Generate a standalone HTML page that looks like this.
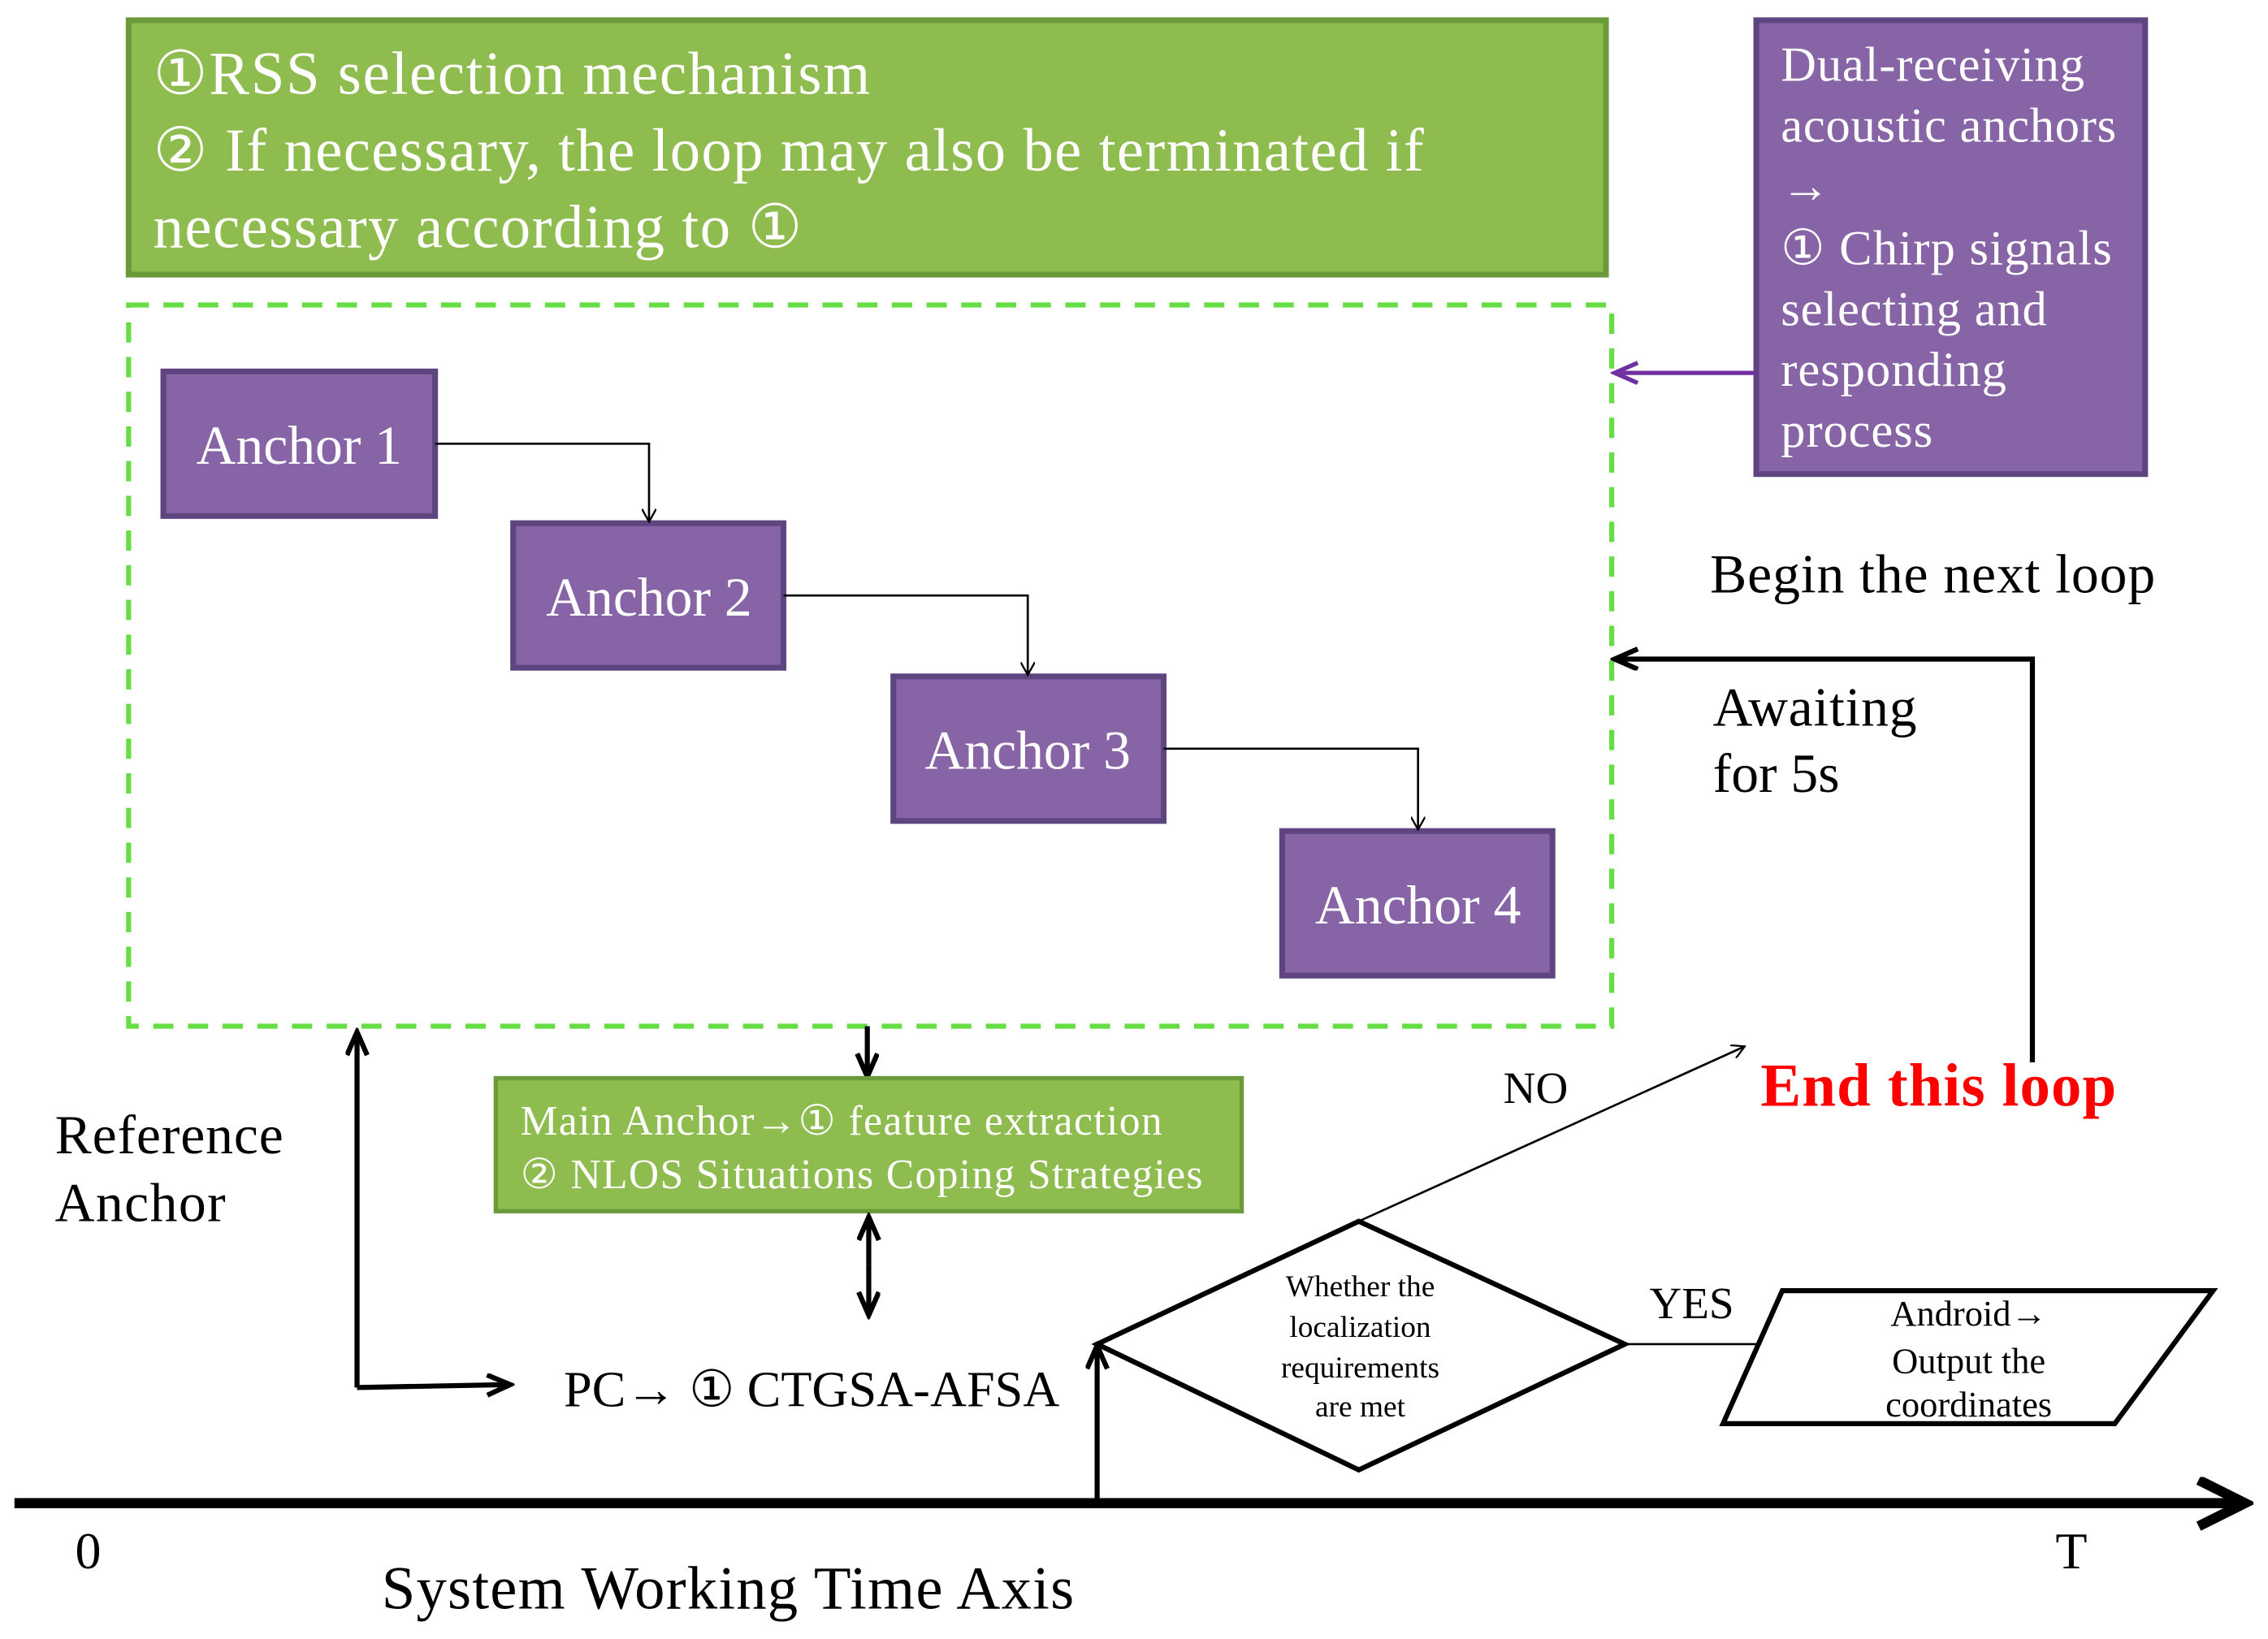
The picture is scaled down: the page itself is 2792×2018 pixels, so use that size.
<!DOCTYPE html>
<html><head><meta charset="utf-8"><style>html,body{margin:0;padding:0;background:#fff}svg{display:block}</style></head><body>
<svg width="2792" height="2018" viewBox="0 0 1569 1134" preserveAspectRatio="none" xmlns="http://www.w3.org/2000/svg" font-family="'Liberation Serif', serif">
<defs>
<marker id="a" markerWidth="10" markerHeight="10" refX="9" refY="5" orient="auto" markerUnits="userSpaceOnUse"><path d="M0,0 L9,5 L0,10" fill="none" stroke="#000" stroke-width="1.3"/></marker>
<marker id="ab" markerWidth="20" markerHeight="20" refX="17" refY="8" orient="auto" markerUnits="userSpaceOnUse"><path d="M1,1 L17,8 L1,15" fill="none" stroke="#000" stroke-width="3.5"/></marker>
<marker id="ap" markerWidth="20" markerHeight="20" refX="17" refY="8" orient="auto" markerUnits="userSpaceOnUse"><path d="M1,1 L17,8 L1,15" fill="none" stroke="#7030a0" stroke-width="3"/></marker>
<marker id="ax" markerWidth="40" markerHeight="40" refX="34" refY="18" orient="auto" markerUnits="userSpaceOnUse"><path d="M2,2 L34,18 L2,34" fill="none" stroke="#000" stroke-width="7"/></marker>
</defs>
<rect x="89" y="14" width="1022" height="176" fill="#8fbc4f" stroke="#6a9a3a" stroke-width="4"/>
<g fill="#fff" font-size="42" lengthAdjust="spacingAndGlyphs"><text x="106" y="65" textLength="496">①RSS selection mechanism</text><text x="106" y="118" textLength="879">② If necessary, the loop may also be terminated if</text><text x="106" y="171" textLength="449">necessary according to ①</text></g>
<rect x="89" y="211" width="1026" height="499" fill="none" stroke="#66dd44" stroke-width="3.5" stroke-dasharray="14,10"/>
<rect x="1215" y="14" width="269" height="314" fill="#8764a6" stroke="#5e4580" stroke-width="4"/>
<g fill="#fff" font-size="34"><text x="1232" y="56" textLength="210">Dual-receiving</text><text x="1232" y="98" textLength="232">acoustic anchors</text><text x="1232" y="140">→</text><text x="1232" y="183" textLength="229">① Chirp signals</text><text x="1232" y="225" textLength="184">selecting and</text><text x="1232" y="267" textLength="156">responding</text><text x="1232" y="309" textLength="105">process</text></g>
<g fill="#8764a6" stroke="#5e4580" stroke-width="4"><rect x="113" y="257" width="188" height="100"/><rect x="355" y="362" width="187" height="100"/><rect x="618" y="468" width="187" height="100"/><rect x="887" y="575" width="187" height="100"/></g>
<g fill="#fff" font-size="38" text-anchor="middle"><text x="207" y="321">Anchor 1</text><text x="449" y="426">Anchor 2</text><text x="711" y="532">Anchor 3</text><text x="981" y="639">Anchor 4</text></g>
<g fill="none" stroke="#000" stroke-width="1.5"><path d="M301,307 H449 V361" marker-end="url(#a)"/><path d="M542,412 H711 V467" marker-end="url(#a)"/><path d="M805,518 H981 V574" marker-end="url(#a)"/></g>
<path d="M1215,258 H1117" stroke="#7030a0" stroke-width="3" marker-end="url(#ap)"/>
<path d="M1406,735 V456 H1117" fill="none" stroke="#000" stroke-width="3.5" marker-end="url(#ab)"/>
<g font-size="38"><text x="1183" y="410" textLength="308">Begin the next loop</text><text x="1185" y="502" textLength="141">Awaiting</text><text x="1185" y="548">for 5s</text></g>
<path d="M600,710 V745" stroke="#000" stroke-width="3.5" marker-end="url(#ab)"/>
<rect x="343" y="746" width="516" height="92" fill="#8fbc4f" stroke="#6a9a3a" stroke-width="3"/>
<g fill="#fff" font-size="29"><text x="360" y="785" textLength="444">Main Anchor→① feature extraction</text><text x="360" y="822" textLength="472">② NLOS Situations Coping Strategies</text></g>
<path d="M601,875 V910" stroke="#000" stroke-width="3.5" marker-end="url(#ab)"/>
<path d="M601,875 V842" stroke="#000" stroke-width="3.5" marker-end="url(#ab)"/>
<text x="390" y="973" font-size="35" textLength="343">PC→ ① CTGSA-AFSA</text>
<g font-size="38"><text x="38" y="798" textLength="158">Reference</text><text x="38" y="845" textLength="118">Anchor</text></g>
<path d="M247,960 V714" fill="none" stroke="#000" stroke-width="3.5" marker-end="url(#ab)"/>
<path d="M247,960 L353,958" fill="none" stroke="#000" stroke-width="3.5" marker-end="url(#ab)"/>
<path d="M10,1040 H1553" stroke="#000" stroke-width="7" marker-end="url(#ax)"/>
<g font-size="36"><text x="52" y="1085">0</text><text x="1422" y="1085">T</text></g>
<text x="264" y="1113" font-size="42" textLength="479">System Working Time Axis</text>
<path d="M759,1038 V931" stroke="#000" stroke-width="3.5" marker-end="url(#ab)"/>
<polygon points="759,930 940,845 1124,930 940,1017" fill="#fff" stroke="#000" stroke-width="3.5"/>
<g font-size="21" text-anchor="middle"><text x="941" y="897">Whether the</text><text x="941" y="925">localization</text><text x="941" y="953">requirements</text><text x="941" y="980">are met</text></g>
<path d="M940,845 L1207,724" stroke="#000" stroke-width="1.5" marker-end="url(#a)"/>
<text x="1040" y="763" font-size="31">NO</text>
<path d="M1124,930 H1232" stroke="#000" stroke-width="1.5" marker-end="url(#a)"/>
<text x="1141" y="912" font-size="31">YES</text>
<polygon points="1233,893 1531,893 1463,985 1192,985" fill="#fff" stroke="#000" stroke-width="3.5"/>
<g font-size="25" text-anchor="middle"><text x="1362" y="917">Android→</text><text x="1362" y="950">Output the</text><text x="1362" y="980">coordinates</text></g>
<text x="1218" y="765" font-size="42" font-weight="bold" fill="#ff0000" textLength="246">End this loop</text>
</svg>
</body></html>
